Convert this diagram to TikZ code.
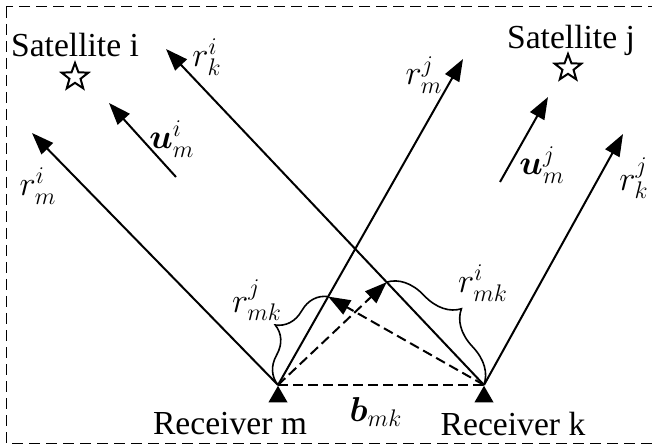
\documentclass[tikz,border=0pt]{standalone}
\usepackage{fontspec}
\usepackage{bm}
\setmainfont{Liberation Serif}
\usetikzlibrary{arrows.meta,calc,shapes.geometric,decorations.pathreplacing}

\begin{document}
\begin{tikzpicture}[
    x=0.5pt, y=-0.5pt,
    ray/.style={-{Triangle[length=11pt,width=8pt]}, line width=1pt},
    proj/.style={ray, dash pattern=on 5pt off 2.5pt},
    brc/.style={decorate, decoration={brace, amplitude=#1}, line width=0.8pt},
    lbl/.style={font=\fontsize{16.8}{19}\selectfont, inner sep=0pt},
    sat/.style={star, star points=5, star point ratio=2.4, draw, line width=1pt,
      minimum size=14pt, inner sep=0pt},
    rx/.style={regular polygon, regular polygon sides=3, fill, minimum size=11pt,
      inner sep=0pt, anchor=corner 1}
  ]
    \useasboundingbox (0,0) rectangle (652,448);
    \clip (0,0) rectangle (652,448);
    \draw[line width=0.5pt, dash pattern=on 5.5pt off 3pt] (6,7) rectangle (670,443);

    % receivers and ray tips
    \coordinate (m) at (278,385);
    \coordinate (k) at (484,385);
    \coordinate (rmi) at (32,133);
    \coordinate (rmj) at (463,59);
    \coordinate (rki) at (166,49);
    \coordinate (rkj) at (623,134);
    \coordinate (fk) at ($(k)!(m)!(rki)$);
    \coordinate (fm) at ($(m)!(k)!(rmj)$);

    \node[rx] (mtri) at (m) {};
    \node[rx] (ktri) at (k) {};

    \draw[ray] (m) -- (rmi);
    \draw[ray] (m) -- (rmj);
    \draw[ray] (k) -- (rki);
    \draw[ray] (k) -- (rkj);

    \coordinate (umi0) at (176,177);
    \coordinate (umi1) at (109,103);
    \coordinate (umj0) at (500,182);
    \coordinate (umj1) at (548,97);
    \draw[ray] (umi0) -- (umi1);
    \draw[ray] (umj0) -- (umj1);

    \draw[proj] (m) -- (fk);
    \draw[proj] (k) -- (fm);
    \draw[line width=1pt, dash pattern=on 5pt off 2.5pt] (m) -- (k);

    \draw[brc=16pt] (m) -- (fm);
    \draw[brc=18pt] (fk) -- (k);

    % satellites
    \node[sat] (stari) at (75,77) {};
    \node[sat] (starj) at (568,68) {};
    \node[lbl] (sati) at (75,45) {Satellite i};
    \node[lbl] (satj) at (571,40) {Satellite j};

    % labels
    \node[lbl] (lrki) at (207,57) {$r_k^i$};
    \node[lbl] (lumi) at (172,139) {$\bm{u}_m^i$};
    \node[lbl] (lrmi) at (38,186) {$r_m^i$};
    \node[lbl] (lrmj) at (424,75) {$r_m^j$};
    \node[lbl] (lumj) at (542,165) {$\bm{u}_m^j$};
    \node[lbl] (lrkj) at (634,178) {$r_k^j$};
    \node[lbl] (lrmkj) at (257,300) {$r_{mk}^j$};
    \node[lbl] (lrmki) at (483,283) {$r_{mk}^i$};
    \node[lbl] (lbmk) at (376,412) {$\bm{b}_{mk}$};
    \node[lbl] (recm) at (230,424) {Receiver m};
    \node[lbl] (reck) at (513,424) {Receiver k};
  \end{tikzpicture}
\end{document}
